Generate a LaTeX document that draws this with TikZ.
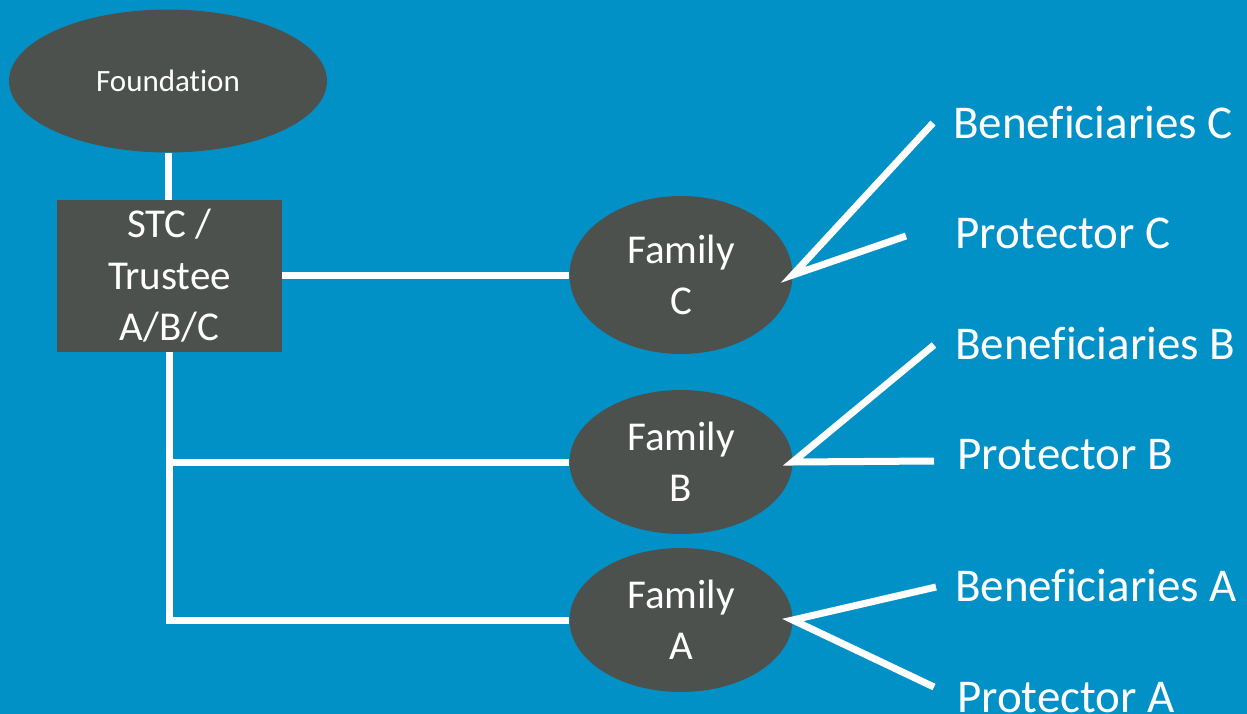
\documentclass[tikz,border=0pt]{standalone}
\usepackage{fontspec}
\setmainfont{Carlito}[Ligatures=NoCommon]
\usetikzlibrary{shapes.geometric}
\definecolor{bgblue}{RGB}{2,145,198}
\definecolor{nodegray}{RGB}{77,81,78}
\tikzset{
  fam/.style={ellipse, fill=nodegray, draw=none, inner sep=0pt, minimum width=223pt, minimum height=144pt,
    text=white, align=center, font=\fontsize{41}{51}\selectfont},
  lbl/.style={anchor=base west, inner sep=0pt, text=white, font=\fontsize{47}{56}\selectfont},
  wire/.style={draw=white, line width=7pt},
}
\begin{document}
\begin{tikzpicture}[x=1pt,y=-1pt]
\fill[bgblue] (0,0) rectangle (1247,714);
\useasboundingbox (0,0) rectangle (1247,714);

\node[ellipse, fill=nodegray, inner sep=0pt, minimum width=318pt, minimum height=143pt,
  text=white, font=\fontsize{31}{37}\selectfont] (found) at (168,81) {Foundation};
\node[rectangle, fill=nodegray, inner sep=0pt, minimum width=225pt, minimum height=152pt,
  text=white, align=center, font=\fontsize{41}{51.5}\selectfont] (stc) at (169.5,276) {STC /\\Trustee\\A/B/C};

\node[fam, minimum height=158pt] (fc) at (681,275) {Family\\C};
\node[fam] (fb) at (681,462) {Family\\B};
\node[fam] (fa) at (681,620) {Family\\A};

\node[lbl] (bc) at (953,139) {Beneficiaries C};
\node[lbl] (pc) at (955,248) {Protector C};
\node[lbl] (bb) at (955,359) {Beneficiaries B};
\node[lbl] (pb) at (957,469) {Protector B};
\node[lbl] (ba) at (955,601) {Beneficiaries A};
\node[lbl] (pa) at (957,712) {Protector A};

\coordinate (bcend) at (933,123);
\coordinate (pcend) at (906,236);
\coordinate (bbend) at (934,345);
\coordinate (pbend) at (934,461);
\coordinate (baend) at (936,587);
\coordinate (paend) at (934,687);

\draw[wire] (found.south) -- (found.south |- stc.north);
\draw[wire] (fc.west -| stc.east) -- (fc.west);
\draw[wire] (stc.south) |- (fa.west);
\draw[wire] (stc.south |- fb.west) -- (fb.west);

\draw[wire] (bcend) -- (fc.east) -- (pcend);
\draw[wire] (bbend) -- (fb.east) -- (pbend);
\draw[wire] (baend) -- (fa.east) -- (paend);
\end{tikzpicture}
\end{document}
